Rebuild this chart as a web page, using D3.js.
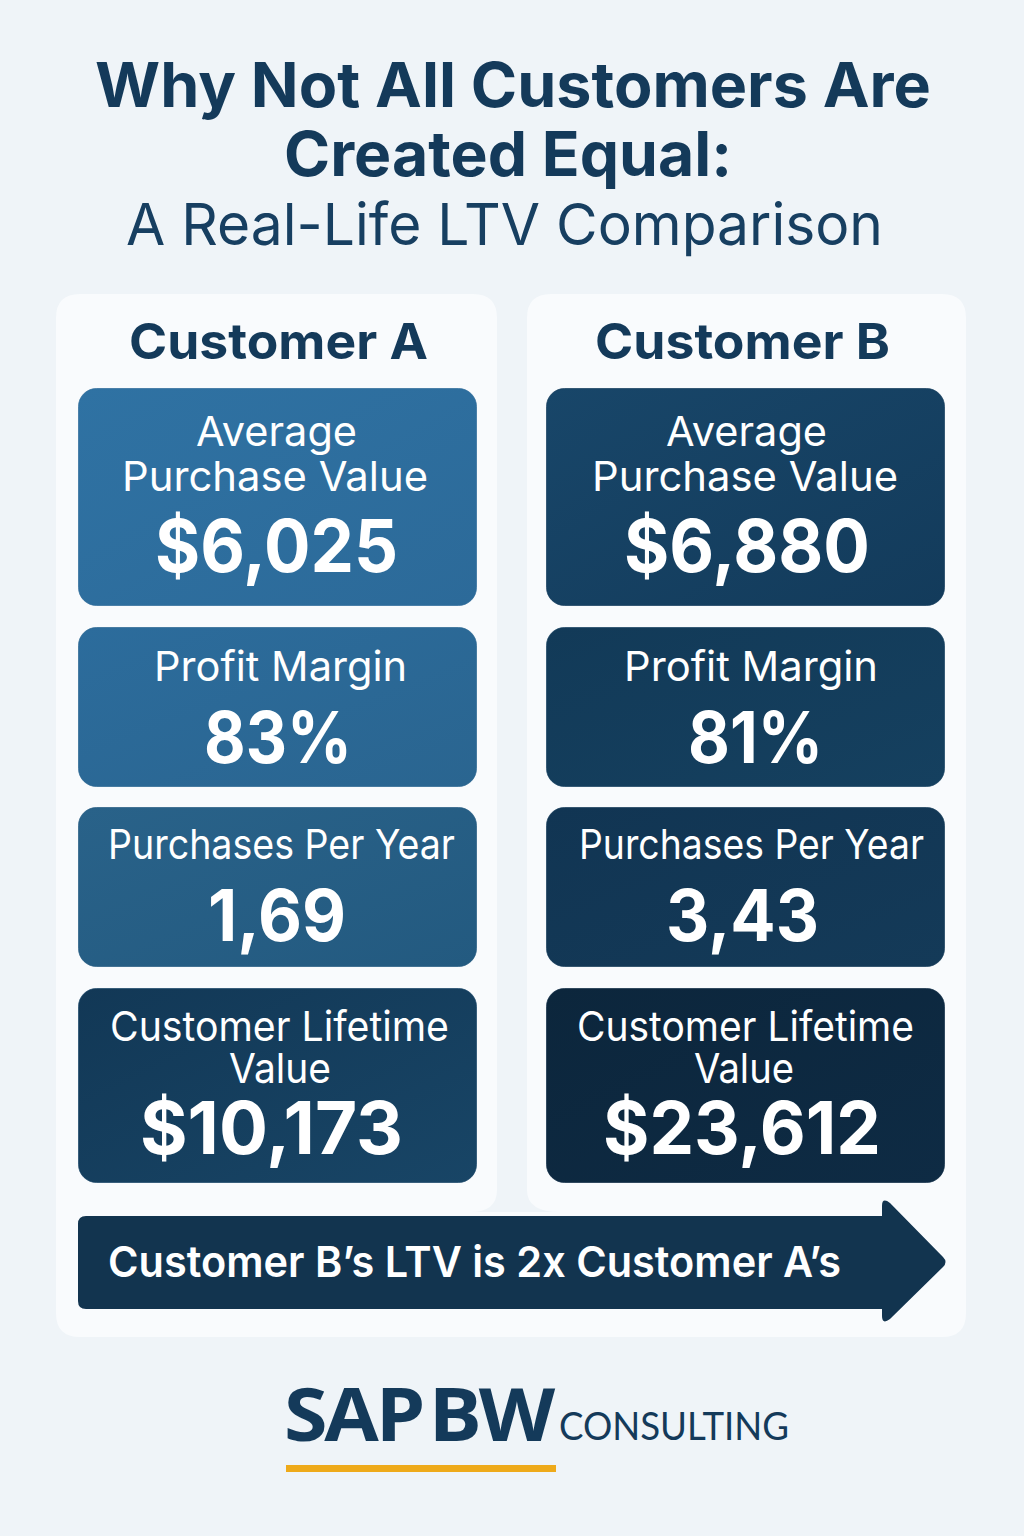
<!DOCTYPE html>
<html><head><meta charset="utf-8">
<script src="https://cdn.jsdelivr.net/npm/d3@7/dist/d3.min.js"></script>
<style>html,body{margin:0;padding:0;background:#eff4f8}svg{display:block}text{font-family:Inter,"Noto Sans",sans-serif}</style>
</head><body><svg id="c" width="1024" height="1536"></svg>
<script>
const titleLines = ["Why Not All Customers Are", "Created Equal:", "A Real-Life LTV Comparison"];
const customers = ["Customer A", "Customer B"];
const metricLabels = [["Average", "Purchase Value"], ["Profit Margin"], ["Purchases Per Year"], ["Customer Lifetime", "Value"]];
const valuesA = ["$6,025", "83%", "1,69", "$10,173"];
const valuesB = ["$6,880", "81%", "3,43", "$23,612"];
const callout = "Customer B\u2019s LTV is 2x Customer A\u2019s";
const brandMain = "SAP BW";
const brandSub = "CONSULTING";

const colA = [["#2f72a3", "#2c6a99"], ["#2c6c9c", "#2a6590"], ["#296289", "#235a80"], ["#123856", "#184566"]];
const colB = [["#184669", "#133b5b"], ["#123a58", "#15405f"], ["#113553", "#143a58"], ["#0c263c", "#0e2b44"]];
const cardX = [[78, 477], [546, 945]];
const cardY = [[388, 606], [627, 787], [807, 967], [988, 1183]];
// extents [x0,x1,baseline] per text line, per column and row
const labelPos = [
  [[[196,357,446],[122,428,491]], [[154,407,681]], [[108,455,859]], [[110,449,1041],[229,331,1083]]],
  [[[666,827,446],[592,898,491]], [[624,878,681]], [[579,924,859]], [[577,914,1041],[694,794,1083]]]
];
const valuePos = [
  [[155,398,572],[204,352,763],[208,346,941],[140,403,1154]],
  [[624,870,572],[688,823,763],[666,819,941],[603,881,1154]]
];
const headPos = [[129,428,359],[595,890,359]];

const svg = d3.select("#c");
const defs = svg.append("defs");
svg.append("rect").attr("width",1024).attr("height",1536).attr("fill","#eff4f8");

function fitText(sel, d){
  sel.append("text").attr("x",d.x0).attr("y",d.y)
    .attr("textLength",d.x1-d.x0).attr("lengthAdjust","spacingAndGlyphs")
    .attr("font-size",d.size).attr("font-weight",d.weight)
    .attr("fill",d.fill).style("font-family",d.font||null)
    .style("word-spacing",d.wordSpacing||null).style("letter-spacing",d.letterSpacing||null).text(d.text);
}

// title
[[95,931,107,62,700],[284,732,176,62,700],[126,883,245,58,400]].forEach((p,i)=>
  fitText(svg,{x0:p[0],x1:p[1],y:p[2],size:p[3],weight:p[4],fill:i==2?"#173f61":"#143a5a",text:titleLines[i]}));

// panel: one outline with a notch between the two customer columns
const R=24, p=d3.path();
p.moveTo(56+R,294); p.lineTo(497-R,294); p.quadraticCurveTo(497,294,497,294+R);
p.lineTo(497,1190); p.quadraticCurveTo(497,1212,470,1212);
p.lineTo(560,1212); p.quadraticCurveTo(527,1212,527,1190);
p.lineTo(527,294+R); p.quadraticCurveTo(527,294,527+R,294);
p.lineTo(966-R,294); p.quadraticCurveTo(966,294,966,294+R);
p.lineTo(966,1337-R); p.quadraticCurveTo(966,1337,966-R,1337);
p.lineTo(56+R,1337); p.quadraticCurveTo(56,1337,56,1337-R);
p.lineTo(56,294+R); p.quadraticCurveTo(56,294,56+R,294); p.closePath();
svg.append("path").attr("d",p.toString()).attr("fill","#f9fbfd");

const col = customers.map((c,i)=>({name:c,i,vals:i?valuesB:valuesA,colors:i?colB:colA}));
col.forEach(c=>{
  const h=headPos[c.i];
  fitText(svg,{x0:h[0],x1:h[1],y:h[2],size:50,weight:700,fill:"#143a5a",text:c.name});
  metricLabels.forEach((lines,r)=>{
    const id=`g${c.i}${r}`;
    const g=defs.append("linearGradient").attr("id",id).attr("x1",0).attr("y1",0).attr("x2",1).attr("y2",1);
    g.append("stop").attr("offset",0).attr("stop-color",c.colors[r][0]);
    g.append("stop").attr("offset",1).attr("stop-color",c.colors[r][1]);
    svg.append("rect").attr("x",cardX[c.i][0]+.5).attr("y",cardY[r][0]+.5)
      .attr("width",cardX[c.i][1]-cardX[c.i][0]-1).attr("height",cardY[r][1]-cardY[r][0]-1)
      .attr("rx",18).attr("fill",`url(#${id})`).attr("stroke",c.colors[r][1]).attr("stroke-opacity",.7);
    lines.forEach((t,k)=>{
      const q=labelPos[c.i][r][k];
      fitText(svg,{x0:q[0],x1:q[1],y:q[2],size:41,weight:400,fill:"#fff",text:t});
    });
    const v=valuePos[c.i][r];
    fitText(svg,{x0:v[0],x1:v[1],y:v[2],size:r==0||r==3?73:71,weight:700,fill:"#fff",text:c.vals[r]});
  });
});

// arrow
const a=d3.path();
a.moveTo(86,1216); a.lineTo(882,1216); a.lineTo(882,1206);
a.quadraticCurveTo(882,1197,890,1203); a.lineTo(943,1257);
a.quadraticCurveTo(948,1262,943,1267); a.lineTo(890,1319);
a.quadraticCurveTo(882,1325,882,1316); a.lineTo(882,1309);
a.lineTo(86,1309); a.quadraticCurveTo(78,1309,78,1301);
a.lineTo(78,1224); a.quadraticCurveTo(78,1216,86,1216); a.closePath();
svg.append("path").attr("d",a.toString()).attr("fill","#12344f");
fitText(svg,{x0:108,x1:841,y:1277,size:43,weight:600,fill:"#fff",text:callout});

// brand
fitText(svg,{x0:284,x1:552,y:1441,size:74,weight:700,fill:"#143a5a",font:"'Open Sans'",letterSpacing:"-3px",wordSpacing:"-10px",text:brandMain});
fitText(svg,{x0:559,x1:789,y:1440,size:39,weight:400,fill:"#143a5a",font:"Lato",text:brandSub});
svg.append("rect").attr("x",286).attr("y",1465).attr("width",270).attr("height",7).attr("fill","#eeaa1a");
</script></body></html>
